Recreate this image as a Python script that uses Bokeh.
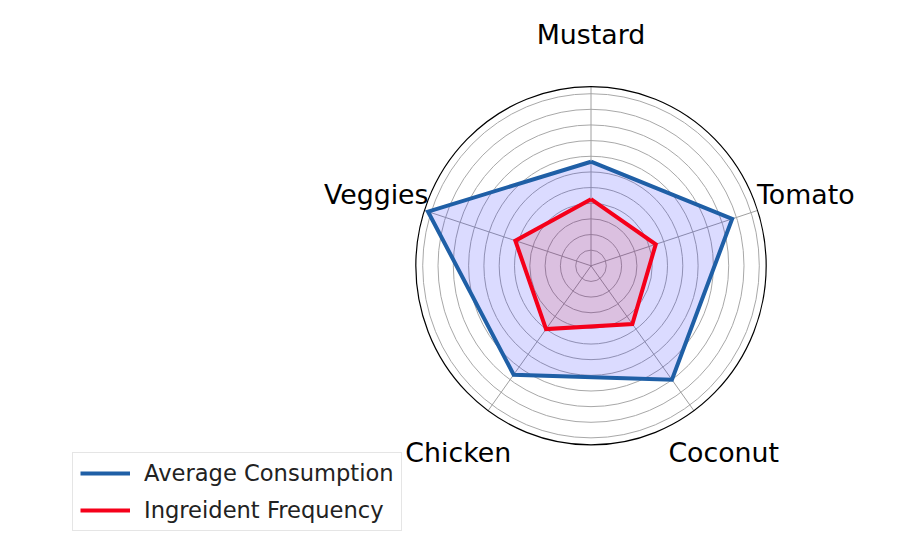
import numpy as np
from bokeh.plotting import figure
from bokeh.models import Range1d, Legend, LegendItem, ColumnDataSource
from bokeh.core.properties import value
from bokeh.embed import file_html
from bokeh.resources import INLINE

# ---- data ----
categories = ["Mustard", "Tomato", "Coconut", "Chicken", "Veggies"]
avg_consumption = [6.65, 9.7, 9.0, 8.6, 11.2]
ingredient_frequency = [4.26, 4.45, 4.6, 5.0, 5.2]
ring_ticks = [1, 2, 3, 4, 5, 6, 7, 8, 9, 10, 11]
r_max = 11.45

# ---- layout constants ----
label_r = 14.76
px_x, px_y = 15.3, 15.65
cx, cy = 590.5, 265.3  # center in screen px (from top-left)
W, H = 920, 552

n = len(categories)
theta = np.pi / 2 - 2 * np.pi * np.arange(n) / n

p = figure(width=W, height=H, output_backend="svg", toolbar_location=None,
           x_range=Range1d(-cx / px_x, (W - cx) / px_x),
           y_range=Range1d(-(H - cy) / px_y, cy / px_y),
           min_border=0)
p.axis.visible = False
p.grid.visible = False
p.outline_line_color = None
p.background_fill_color = "white"
p.border_fill_color = "white"

# rings
p.ellipse(x=[0] * len(ring_ticks), y=[0] * len(ring_ticks),
          width=[2 * r for r in ring_ticks], height=[2 * r for r in ring_ticks],
          fill_color=None, line_color="#a8a8a8", line_width=1)
# spokes
p.segment(x0=[0] * n, y0=[0] * n, x1=list(r_max * np.cos(theta)), y1=list(r_max * np.sin(theta)),
          line_color="#a0a0a0", line_width=1)
# outer circle
p.ellipse(x=[0], y=[0], width=[2 * r_max], height=[2 * r_max],
          fill_color=None, line_color="black", line_width=1.2)


def poly(vals):
    v = np.array(vals, dtype=float)
    xs = v * np.cos(theta)
    ys = v * np.sin(theta)
    return list(xs), list(ys), list(np.append(xs, xs[0])), list(np.append(ys, ys[0]))

bx, by, bxc, byc = poly(avg_consumption)
rx, ry, rxc, ryc = poly(ingredient_frequency)

p.patch(bx, by, fill_color="blue", fill_alpha=0.14, line_color=None)
p.patch(rx, ry, fill_color="#e00000", fill_alpha=0.12, line_color=None)
blue_line = p.line(bxc, byc, line_color="#1f5fa6", line_width=4, line_join="miter")
red_line = p.line(rxc, ryc, line_color="#f5001a", line_width=4, line_join="miter")

# category labels
src = ColumnDataSource(dict(x=list(label_r * np.cos(theta)), y=list(label_r * np.sin(theta)),
                            t=categories))
p.text(x="x", y="y", text="t", source=src, text_align="center", text_baseline="middle",
       text_font=value("DejaVu Sans"), text_font_size="26.8px", text_color="black")

legend = Legend(items=[LegendItem(label="Average Consumption", renderers=[blue_line]),
                       LegendItem(label="Ingreident Frequency", renderers=[red_line])],
                location=(72, 21))
legend.label_text_font = "DejaVu Sans"
legend.label_text_font_size = "22.6px"
legend.label_text_color = "#222222"
legend.glyph_width = 50
legend.glyph_height = 24
legend.label_height = 24
legend.label_standoff = 14
legend.spacing = 11
legend.padding = 7
legend.margin = 0
legend.border_line_color = "#cccccc"
legend.border_line_width = 1
legend.background_fill_alpha = 0.8
p.add_layout(legend)

open("out.html", "w").write(file_html(p, INLINE))
